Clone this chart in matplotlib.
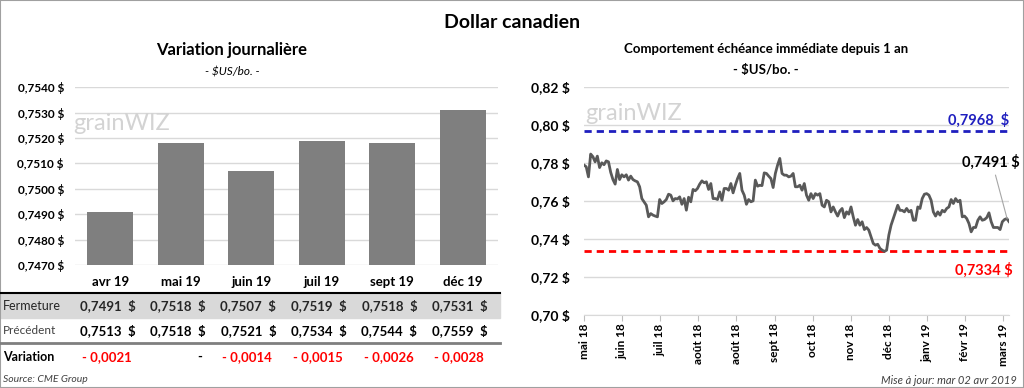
import numpy as np
import matplotlib
matplotlib.use("Agg")
import matplotlib.pyplot as plt
from matplotlib.patches import Rectangle
from matplotlib.lines import Line2D

plt.rcParams['font.family'] = ['Lato', 'DejaVu Sans']
plt.rcParams['text.parse_math'] = False

# --- donnees ---
mois = ["avr 19", "mai 19", "juin 19", "juil 19", "sept 19", "déc 19"]
fermeture = [0.7491, 0.7518, 0.7507, 0.7519, 0.7518, 0.7531]
precedent = [0.7513, 0.7518, 0.7521, 0.7534, 0.7544, 0.7559]
variation = [-0.0021, 0.0, -0.0014, -0.0015, -0.0026, -0.0028]

# echeance immediate, mai 18 -> avr 19
prix = [
    0.7788, 0.7779, 0.7726, 0.7846, 0.7832, 0.7805, 0.7835, 0.7775, 0.7800, 0.7790,
    0.7810, 0.7805, 0.7750, 0.7712, 0.7688, 0.7765, 0.7712, 0.7737, 0.7726, 0.7737,
    0.7709, 0.7730, 0.7712, 0.7705, 0.7700, 0.7674, 0.7612, 0.7595, 0.7577, 0.7516,
    0.7533, 0.7525, 0.7520, 0.7516, 0.7607, 0.7586, 0.7595, 0.7607, 0.7635, 0.7630,
    0.7600, 0.7612, 0.7610, 0.7621, 0.7582, 0.7612, 0.7551, 0.7619, 0.7595, 0.7660,
    0.7653, 0.7665, 0.7688, 0.7705, 0.7695, 0.7700, 0.7660, 0.7691, 0.7612, 0.7612,
    0.7607, 0.7647, 0.7603, 0.7665, 0.7665, 0.7656, 0.7691, 0.7642, 0.7682, 0.7717,
    0.7744, 0.7656, 0.7630, 0.7582, 0.7607, 0.7595, 0.7600, 0.7709, 0.7677, 0.7682,
    0.7680, 0.7747, 0.7744, 0.7730, 0.7717, 0.7670, 0.7744, 0.7788, 0.7823, 0.7744,
    0.7735, 0.7735, 0.7726, 0.7730, 0.7744, 0.7674, 0.7674, 0.7682, 0.7656, 0.7691,
    0.7630, 0.7603, 0.7638, 0.7612, 0.7638, 0.7630, 0.7638, 0.7577, 0.7568, 0.7603,
    0.7595, 0.7542, 0.7568, 0.7542, 0.7520, 0.7547, 0.7560, 0.7512, 0.7542, 0.7530,
    0.7568, 0.7516, 0.7472, 0.7502, 0.7472, 0.7490, 0.7449, 0.7460, 0.7446, 0.7411,
    0.7376, 0.7367, 0.7372, 0.7350, 0.7341, 0.7334, 0.7341, 0.7420, 0.7472, 0.7507,
    0.7542, 0.7577, 0.7550, 0.7550, 0.7542, 0.7560, 0.7542, 0.7550, 0.7498, 0.7498,
    0.7568, 0.7560, 0.7612, 0.7635, 0.7638, 0.7630, 0.7603, 0.7542, 0.7520, 0.7542,
    0.7525, 0.7550, 0.7542, 0.7560, 0.7568, 0.7607, 0.7586, 0.7612, 0.7595, 0.7603,
    0.7516, 0.7520, 0.7507, 0.7481, 0.7437, 0.7460, 0.7460, 0.7498, 0.7516, 0.7498,
    0.7502, 0.7512, 0.7537, 0.7490, 0.7460, 0.7460, 0.7460, 0.7449, 0.7490, 0.7502,
    0.7507, 0.7491,
]
etiquettes_x = ["mai 18", "juin 18", "juil 18", "août 18", "août 18", "sept 18",
                "oct 18", "nov 18", "déc 18", "janv 19", "févr 19", "mars 19"]
haut_1an = 0.7968
bas_1an = 0.7334
dernier = 0.7491

W, H = 1024, 388


def fx(px):
    return px / W


def fy(py):
    return 1 - py / H


def fmt(v, nd=4):
    return f"{v:.{nd}f}".replace('.', ',')


fig = plt.figure(figsize=(W / 100, H / 100), dpi=100)
fig.patch.set_facecolor('white')

fig.text(fx(512), fy(22), "Dollar canadien", ha='center', va='center',
         fontsize=14, fontweight='bold')

# ---------------- gauche : barres ----------------
fig.text(fx(232), fy(50), "Variation journalière", ha='center', va='center',
         fontsize=12, fontweight='bold')
fig.text(fx(232), fy(72), "- $US/bo. -", ha='center', va='center',
         fontsize=8.5, style='italic')

ax1 = fig.add_axes([fx(75), fy(265), (498 - 75) / W, (265 - 87.3) / H])
xs = np.arange(len(mois))
ax1.bar(xs, fermeture, width=0.65, color='#7f7f7f', zorder=2)
ax1.set_xlim(-0.5, len(mois) - 0.5)
ax1.set_ylim(0.747, 0.754)
yt = np.arange(0.747, 0.75401, 0.001)
ax1.set_yticks(yt)
ax1.set_yticklabels([fmt(v) + " $" for v in yt], fontsize=8.5, fontweight='bold')
ax1.set_xticks(xs)
ax1.set_xticklabels(mois, fontsize=9.5, fontweight='bold')
ax1.tick_params(length=0)
ax1.tick_params(axis='y', pad=8)
ax1.tick_params(axis='x', pad=8)
ax1.grid(axis='y', color='#d9d9d9', lw=1, zorder=0)
for s in ax1.spines.values():
    s.set_visible(False)

fig.text(fx(122), fy(124), "grainWIZ", ha='center', va='center', fontsize=17,
         color='#d3d3d3')

# tableau
fig.add_artist(Rectangle((0, fy(318)), fx(500), (318 - 293) / H,
                         transform=fig.transFigure, color='#d9d9d9', zorder=0))
fig.add_artist(Line2D([0, fx(500)], [fy(293), fy(293)], color='black', lw=1.5,
                      transform=fig.transFigure))
fig.add_artist(Line2D([0, fx(500)], [fy(343), fy(343)], color='#7f7f7f', lw=2,
                      transform=fig.transFigure))

fig.text(fx(3), fy(306), "Fermeture", ha='left', va='center', fontsize=9,
         color='#262626')
fig.text(fx(3), fy(331), "Précédent", ha='left', va='center', fontsize=8.5,
         color='#404040')
fig.text(fx(3), fy(357), "Variation", ha='left', va='center', fontsize=9,
         fontweight='bold')

pas = (498 - 75) / len(mois)
for i in range(len(mois)):
    xd = 75 + pas * i + pas / 2 + 25
    fig.text(fx(xd), fy(306), fmt(fermeture[i]) + "  $", ha='right', va='center',
             fontsize=9.5, fontweight='bold', color='#262626')
    fig.text(fx(xd), fy(331), fmt(precedent[i]) + "  $", ha='right', va='center',
             fontsize=9.5, fontweight='bold')
    if variation[i] == 0:
        txt, col = "-", 'black'
    else:
        txt, col = "- " + fmt(abs(variation[i])), 'red'
    fig.text(fx(xd - 4), fy(357), txt, ha='right', va='center',
             fontsize=9.5, fontweight='bold', color=col)

fig.text(fx(3), fy(380), "Source: CME Group", ha='left', va='center',
         fontsize=7.5, style='italic', color='#404040')

# ---------------- droite : ligne ----------------
fig.text(fx(766), fy(49), "Comportement échéance immédiate depuis 1 an",
         ha='center', va='center', fontsize=9.5, fontweight='bold')
fig.text(fx(766), fy(70), "- $US/bo. -", ha='center', va='center',
         fontsize=9.5, fontweight='bold')

ax2 = fig.add_axes([fx(584), fy(315), 425 / W, (315 - 86.7) / H])
n = len(prix)
xi = np.arange(n)
ax2.plot(xi, prix, color='#595959', lw=2, zorder=3)
ax2.axhline(haut_1an, color='#1f1fbf', ls='--', lw=2, dashes=(2.6, 1.8), zorder=2)
ax2.axhline(bas_1an, color='#ff0000', ls='--', lw=2, dashes=(2.6, 1.8), zorder=2)
ax2.set_xlim(0, n - 1)
ax2.set_ylim(0.70, 0.82)
yt2 = np.arange(0.70, 0.8201, 0.02)
ax2.set_yticks(yt2)
ax2.set_yticklabels([fmt(v, 2) + " $" for v in yt2], fontsize=10, fontweight='bold')
ax2.tick_params(axis='y', length=0, pad=10)
tick_pas = 38.1 / 425 * (n - 1)
ax2.set_xticks(np.arange(len(etiquettes_x)) * tick_pas)
ax2.set_xticklabels(etiquettes_x, rotation=90, fontsize=8.5, fontweight='bold')
ax2.tick_params(axis='x', length=4, color='#bfbfbf', pad=2)
ax2.grid(axis='y', color='#d9d9d9', lw=1, zorder=0)
for s in ['top', 'right', 'left']:
    ax2.spines[s].set_visible(False)
ax2.spines['bottom'].set_color('#d9d9d9')

fig.text(fx(634), fy(114), "grainWIZ", ha='center', va='center', fontsize=17,
         color='#d3d3d3')

fig.text(fx(1009), fy(120), fmt(haut_1an) + "  $", ha='right', va='center',
         fontsize=10.5, fontweight='bold', color='#1f1fbf')
fig.text(fx(1013), fy(270), fmt(bas_1an) + " $", ha='right', va='center',
         fontsize=10.5, fontweight='bold', color='#ff0000')
ax2.annotate(fmt(dernier) + " $", xy=(n - 1.5, dernier),
             xytext=(1020, H - 162), textcoords='figure pixels',
             ha='right', va='center', fontsize=10.5, fontweight='bold',
             arrowprops=dict(arrowstyle='-', color='#a6a6a6', lw=0.8,
                             relpos=(0.55, 0.0), shrinkA=2, shrinkB=2))

fig.text(fx(1017), fy(380), "Mise à jour: mar 02 avr 2019", ha='right',
         va='center', fontsize=8, style='italic', color='#404040')

fig.add_artist(Rectangle((0, 0), 1, 1, transform=fig.transFigure, fill=False,
                         edgecolor='#a0a0a0', lw=1.5))

fig.savefig('out.png', dpi=100)
